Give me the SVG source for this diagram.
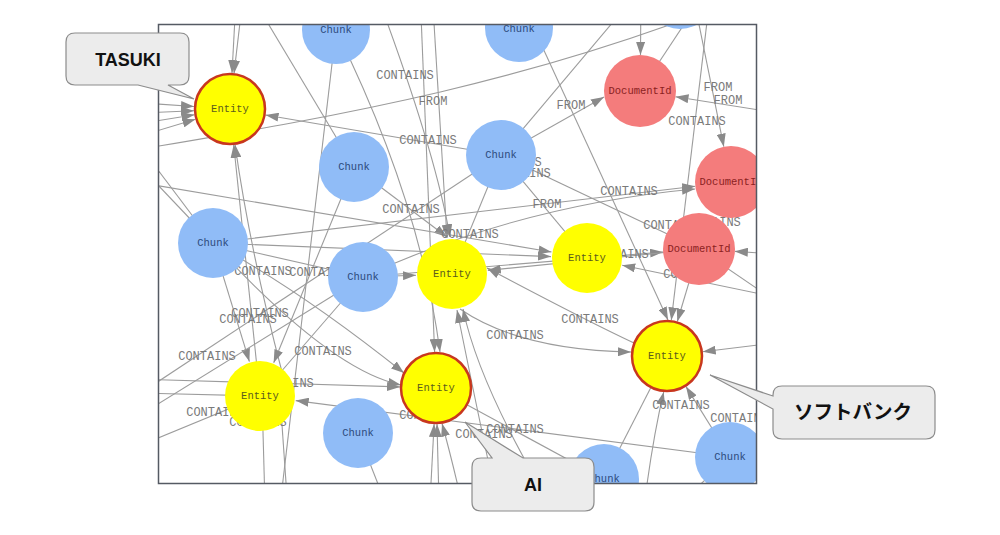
<svg xmlns="http://www.w3.org/2000/svg" width="1000" height="535" viewBox="0 0 1000 535">
<defs>
<style>
.e{fill:none;stroke:#9c9c9c;stroke-width:1.1}
.a{marker-end:url(#arr)}
.el{font-family:"Liberation Mono","DejaVu Sans Mono",monospace;font-size:12px;fill:#7a7a7a;text-anchor:middle;dominant-baseline:central}
.nl{font-family:"Liberation Mono","DejaVu Sans Mono",monospace;font-size:10.5px;text-anchor:middle;dominant-baseline:central}
.chunk circle{fill:#90bcf7}
.chunk text{fill:#2c4a7c}
.ent circle{fill:#ffff00}
.ent text{fill:#5c5c1e}
.hl circle{stroke:#c8371e;stroke-width:2.5}
.doc circle{fill:#f47c7c}
.doc text{fill:#8b1f1f}
.box{fill:#ececec;stroke:#8c8c8c;stroke-width:1.2}
.ct{font-family:"Liberation Sans",Arial,sans-serif;font-weight:700;font-size:18px;fill:#111;text-anchor:middle}
.cj{font-family:"Noto Sans CJK JP","Noto Sans",sans-serif;font-weight:700;font-size:19.5px;fill:#111;text-anchor:middle}
</style>
<marker id="arr" markerUnits="userSpaceOnUse" viewBox="0 0 13 9" markerWidth="13" markerHeight="9" refX="13" refY="4.5" orient="auto">
<path d="M0,0 L13,4.5 L0,9 z" fill="#8a8a8a"/>
</marker>
<clipPath id="fc"><rect x="159" y="25" width="597" height="458"/></clipPath>
</defs>
<rect width="1000" height="535" fill="#ffffff"/>
<g clip-path="url(#fc)">
<g id="connectors">
<path class="e a" d="M237,-20 L232,73"/>
<path class="e a" d="M245,-20 L234,73.5"/>
<path class="e a" d="M100,100 L194,106.5"/>
<path class="e a" d="M100,115 L194,110.7"/>
<path class="e a" d="M100,130 L194.5,114.7"/>
<path class="e a" d="M100,148 L195.5,119.3"/>
<path class="e a" d="M501,155 L265.5,115"/>
<path class="e a" d="M260,396 L233.7,144.8"/>
<path class="e a" d="M282,372 Q250,250 235,144.6"/>
<path class="e" d="M100,156 C300,122 520,90 760,-10"/>
<path class="e" d="M248,-10 L354,167"/>
<path class="e a" d="M420,-10 L434.6,352"/>
<path class="e a" d="M336,30 Q420,200 440,352"/>
<path class="e a" d="M377,-5 Q435,150 450,237"/>
<path class="e a" d="M432,-10 L447,238"/>
<path class="e a" d="M530,20 L668,320"/>
<path class="e a" d="M641,-20 L640.5,55"/>
<path class="e" d="M640,91 L720,-30"/>
<path class="e a" d="M501,155 L604,97"/>
<path class="e" d="M501,155 L640,-10"/>
<path class="e a" d="M790,115 L675.5,96.7"/>
<path class="e a" d="M690,-20 L723.8,146.7"/>
<path class="e a" d="M712,-20 L671.3,320.3"/>
<path class="e a" d="M699,249 L677.3,321.5"/>
<path class="e a" d="M213,243 L695.3,186.2"/>
<path class="e a" d="M363,277 Q520,205 695,189"/>
<path class="e a" d="M363,277 L663.1,252"/>
<path class="e a" d="M790,255 L734.9,251.4"/>
<path class="e a" d="M790,300 L622.2,265.3"/>
<path class="e" d="M699,249 L800,318"/>
<path class="e a" d="M634,343 Q585,320 487,268"/>
<path class="e a" d="M699,249 L487.8,270.4"/>
<path class="e a" d="M363,277 L416,275.2"/>
<path class="e a" d="M460,309 Q520,350 631,352"/>
<path class="e a" d="M505,540 Q475,400 457,310"/>
<path class="e a" d="M560,520 Q480,390 463,309"/>
<path class="e a" d="M800,340 L702.7,351.7"/>
<path class="e a" d="M730,457 L686,386.6"/>
<path class="e a" d="M640,540 Q650,450 663.7,391.9"/>
<path class="e" d="M604,479 L667,356"/>
<path class="e" d="M730,457 L800,395"/>
<path class="e" d="M730,457 L640,540"/>
<path class="e a" d="M100,378 L400,386.9"/>
<path class="e a" d="M213,243 Q330,370 401,385"/>
<path class="e a" d="M730,457 L295.7,400.6"/>
<path class="e" d="M436,388 L604,479"/>
<path class="e a" d="M428,540 L434.1,424"/>
<path class="e a" d="M440,540 L437,424"/>
<path class="e a" d="M470,540 Q455,470 442,423.5"/>
<path class="e" d="M358,433 L400,540"/>
<path class="e a" d="M213,243 L249.4,361.6"/>
<path class="e a" d="M354,167 L273.7,362.7"/>
<path class="e" d="M363,277 L260,396"/>
<path class="e" d="M262,396 L266,540"/>
<path class="e" d="M280,396 L290,540"/>
<path class="e" d="M501,155 L100,420"/>
<path class="e" d="M363,277 L100,440"/>
<path class="e" d="M100,462 L260,396"/>
<path class="e" d="M100,392 L260,396"/>
<path class="e" d="M100,93 L213,243"/>
<path class="e" d="M100,124 L213,243"/>
<path class="e a" d="M213,243 L551,256.6"/>
<path class="e a" d="M213,243 Q300,290 404,373"/>
<path class="e" d="M213,243 L363,277"/>
<path class="e a" d="M354,167 L447,237"/>
<path class="e" d="M501,155 L452,274"/>
<path class="e" d="M501,155 L699,249"/>
<path class="e" d="M501,155 L587,258"/>
<path class="e a" d="M100,176 L551.5,252"/>
<path class="e" d="M336,30 L276,540"/>
<g id="edge-labels">
<text class="el" x="405" y="76">CONTAINS</text>
<text class="el" x="433" y="102">FROM</text>
<text class="el" x="428" y="141">CONTAINS</text>
<text class="el" x="411" y="210">CONTAINS</text>
<text class="el" x="571" y="106">FROM</text>
<text class="el" x="718" y="88">FROM</text>
<text class="el" x="728" y="101">FROM</text>
<text class="el" x="697" y="122">CONTAINS</text>
<text class="el" x="629" y="192">CONTAINS</text>
<text class="el" x="547" y="205">FROM</text>
<text class="el" x="672" y="226">CONTAINS</text>
<text class="el" x="712" y="223">CONTAINS</text>
<text class="el" x="513" y="163">CONTAINS</text>
<text class="el" x="522" y="174">CONTAINS</text>
<text class="el" x="470" y="235">CONTAINS</text>
<text class="el" x="620" y="255">CONTAINS</text>
<text class="el" x="692" y="275">CONTAINS</text>
<text class="el" x="590" y="320">CONTAINS</text>
<text class="el" x="515" y="336">CONTAINS</text>
<text class="el" x="681" y="406">CONTAINS</text>
<text class="el" x="739" y="419">CONTAINS</text>
<text class="el" x="515" y="430">CONTAINS</text>
<text class="el" x="484" y="435">CONTAINS</text>
<text class="el" x="428" y="416">CONTAINS</text>
<text class="el" x="263" y="272">CONTAINS</text>
<text class="el" x="318" y="273">CONTAINS</text>
<text class="el" x="260" y="314">CONTAINS</text>
<text class="el" x="248" y="320">CONTAINS</text>
<text class="el" x="207" y="357">CONTAINS</text>
<text class="el" x="323" y="352">CONTAINS</text>
<text class="el" x="285" y="384">CONTAINS</text>
<text class="el" x="215" y="413">CONTAINS</text>
<text class="el" x="258" y="423">CONTAINS</text>
</g>
</g>
<g id="node-c1" class="chunk"><circle cx="336" cy="30" r="34"/><text class="nl" x="336" y="30">Chunk</text></g>
<g id="node-c2" class="chunk"><circle cx="519" cy="28" r="34"/><text class="nl" x="519" y="29">Chunk</text></g>
<g id="node-c3" class="chunk"><circle cx="680" cy="-6" r="35"/></g>
<g id="node-c11" class="chunk"><circle cx="792" cy="322" r="35"/></g>
<g id="node-e1" class="ent hl"><circle cx="230" cy="109" r="35"/><text class="nl" x="230" y="109">Entity</text></g>
<g id="node-d1" class="doc"><circle cx="640" cy="91" r="36"/><text class="nl" x="640" y="91">DocumentId</text></g>
<g id="node-c4" class="chunk"><circle cx="354" cy="167" r="35"/><text class="nl" x="354" y="167">Chunk</text></g>
<g id="node-c5" class="chunk"><circle cx="501" cy="155" r="35"/><text class="nl" x="501" y="155">Chunk</text></g>
<g id="node-d2" class="doc"><circle cx="731" cy="182" r="36"/><text class="nl" x="731" y="182">DocumentId</text></g>
<g id="node-c6" class="chunk"><circle cx="213" cy="243" r="35"/><text class="nl" x="213" y="243">Chunk</text></g>
<g id="node-c7" class="chunk"><circle cx="363" cy="277" r="35"/><text class="nl" x="363" y="277">Chunk</text></g>
<g id="node-e2" class="ent"><circle cx="452" cy="274" r="35"/><text class="nl" x="452" y="274">Entity</text></g>
<g id="node-e3" class="ent"><circle cx="587" cy="258" r="35"/><text class="nl" x="587" y="258">Entity</text></g>
<g id="node-d3" class="doc"><circle cx="699" cy="249" r="36"/><text class="nl" x="699" y="249">DocumentId</text></g>
<g id="node-e4" class="ent hl"><circle cx="667" cy="356" r="35"/><text class="nl" x="667" y="356">Entity</text></g>
<g id="node-e5" class="ent hl"><circle cx="436" cy="388" r="35"/><text class="nl" x="436" y="388">Entity</text></g>
<g id="node-e6" class="ent"><circle cx="260" cy="396" r="35"/><text class="nl" x="260" y="396">Entity</text></g>
<g id="node-c8" class="chunk"><circle cx="358" cy="433" r="35"/><text class="nl" x="358" y="433">Chunk</text></g>
<g id="node-c9" class="chunk"><circle cx="604" cy="479" r="35"/><text class="nl" x="604" y="479">Chunk</text></g>
<g id="node-c10" class="chunk"><circle cx="730" cy="457" r="35"/><text class="nl" x="730" y="457">Chunk</text></g>
</g>
<rect x="158.5" y="24.5" width="598" height="459" fill="none" stroke="#555a63" stroke-width="1.5"/>
<g id="callout-tasuki">
<path class="box" d="M75,33 H180 Q189,33 189,42 V76 Q189,85 180,85 H168 L194,99 L138,85 H75 Q66,85 66,76 V42 Q66,33 75,33 Z"/>
<text class="ct" x="128" y="66">TASUKI</text>
</g>
<g id="callout-softbank">
<path class="box" d="M782,386 H926 Q935,386 935,395 V430 Q935,439 926,439 H782 Q773,439 773,430 V409 L710,375 L773,396 V395 Q773,386 782,386 Z"/>
<text class="cj" x="853" y="419">ソフトバンク</text>
</g>
<g id="callout-ai">
<path class="box" d="M481,458 H492 L465,422 L523,458 H585 Q594,458 594,467 V502 Q594,511 585,511 H481 Q472,511 472,502 V467 Q472,458 481,458 Z"/>
<text class="ct" x="533" y="491">AI</text>
</g>
</svg>
